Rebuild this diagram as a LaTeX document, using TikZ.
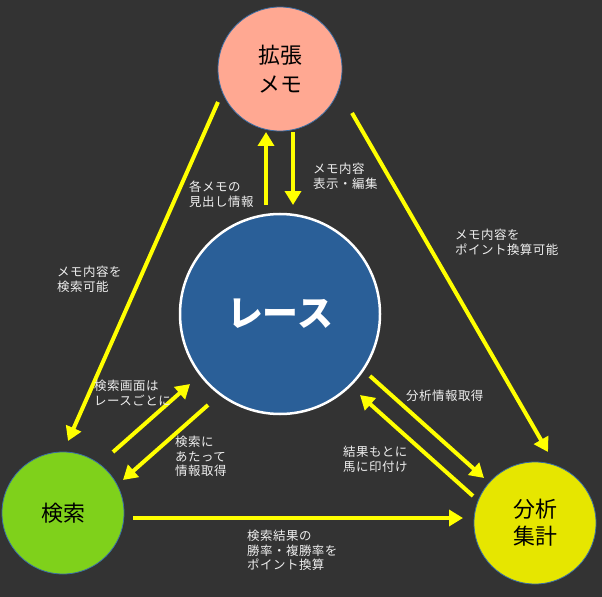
\documentclass[tikz,border=0pt]{standalone}
\usepackage{fontspec}
\setmainfont{Noto Sans CJK JP}
\newfontfamily\lblfont[LetterSpace=4]{Noto Sans CJK JP}
\usetikzlibrary{arrows.meta}
\definecolor{bg}{HTML}{333333}
\definecolor{salmon}{HTML}{FFA892}
\definecolor{raceblue}{HTML}{2A5F98}
\definecolor{kgreen}{HTML}{7FD11B}
\definecolor{cyellow}{HTML}{E6E600}
\definecolor{ayellow}{HTML}{FFFF00}
\definecolor{rim}{HTML}{3A6EA5}
\definecolor{labelc}{HTML}{EEEEEE}
\tikzset{
  circ/.style={circle, draw=rim, line width=0.8bp, inner sep=0pt, align=center, text=black,
    font=\fontsize{22}{29}\selectfont},
  conn/.style={draw=ayellow, line width=4bp, -{Triangle[width=16bp,length=14bp]}},
  lbl/.style={anchor=north west, inner sep=0pt, align=left, text=labelc,
    font=\lblfont\fontsize{12.5}{14.5}\selectfont}
}
\begin{document}
\begin{tikzpicture}[x=1bp,y=-1bp]
\fill[bg] (0,0) rectangle (602,597);
\useasboundingbox (0,0) rectangle (602,597);

\node[circ, fill=salmon, minimum size=124bp] (memo) at (280,69) {拡張\\メモ};
\node[circ, fill=raceblue, draw=white, line width=2.5bp, minimum size=200bp, text=white,
  font=\fontsize{36}{40}\selectfont\bfseries] (race) at (280,314) {レース};
\node[circ, fill=kgreen, minimum size=122bp] (kensaku) at (63,513) {検索};
\node[circ, fill=cyellow, minimum size=122bp, font=\fontsize{22}{27}\selectfont] (bunseki) at (535,523) {分析\\集計};

\coordinate (a1s) at (266,205); \coordinate (a1e) at (266,132);
\coordinate (a2s) at (293,132); \coordinate (a2e) at (293,205);
\coordinate (a3s) at (218,102); \coordinate (a3e) at (68,441);
\coordinate (a4s) at (352,113); \coordinate (a4e) at (548,452);
\coordinate (a5s) at (133,518); \coordinate (a5e) at (463,518);
\coordinate (a6s) at (113,452); \coordinate (a6e) at (190,384);
\coordinate (a7s) at (208,405); \coordinate (a7e) at (123,480);
\coordinate (a8s) at (370,376); \coordinate (a8e) at (484,478);
\coordinate (a9s) at (473,496); \coordinate (a9e) at (360,395);

\draw[conn] (a1s) -- (a1e);
\draw[conn] (a2s) -- (a2e);
\draw[conn] (a3s) -- (a3e);
\draw[conn] (a4s) -- (a4e);
\draw[conn] (a5s) -- (a5e);
\draw[conn] (a6s) -- (a6e);
\draw[conn] (a7s) -- (a7e);
\draw[conn] (a8s) -- (a8e);
\draw[conn] (a9s) -- (a9e);

\node[lbl] (l1) at (189,181) {各メモの\\見出し情報};
\node[lbl] (l2) at (313,163) {メモ内容\\表示・編集};
\node[lbl] (l3) at (57,266) {メモ内容を\\検索可能};
\node[lbl] (l4) at (455,229) {メモ内容を\\ポイント換算可能};
\node[lbl] (l5) at (94,380) {検索画面は\\レースごとに};
\node[lbl] (l6) at (175,436) {検索に\\あたって\\情報取得};
\node[lbl] (l7) at (406,390) {分析情報取得};
\node[lbl] (l8) at (343,446) {結果もとに\\馬に印付け};
\node[lbl] (l9) at (247,530) {検索結果の\\勝率・複勝率を\\ポイント換算};
\end{tikzpicture}
\end{document}
